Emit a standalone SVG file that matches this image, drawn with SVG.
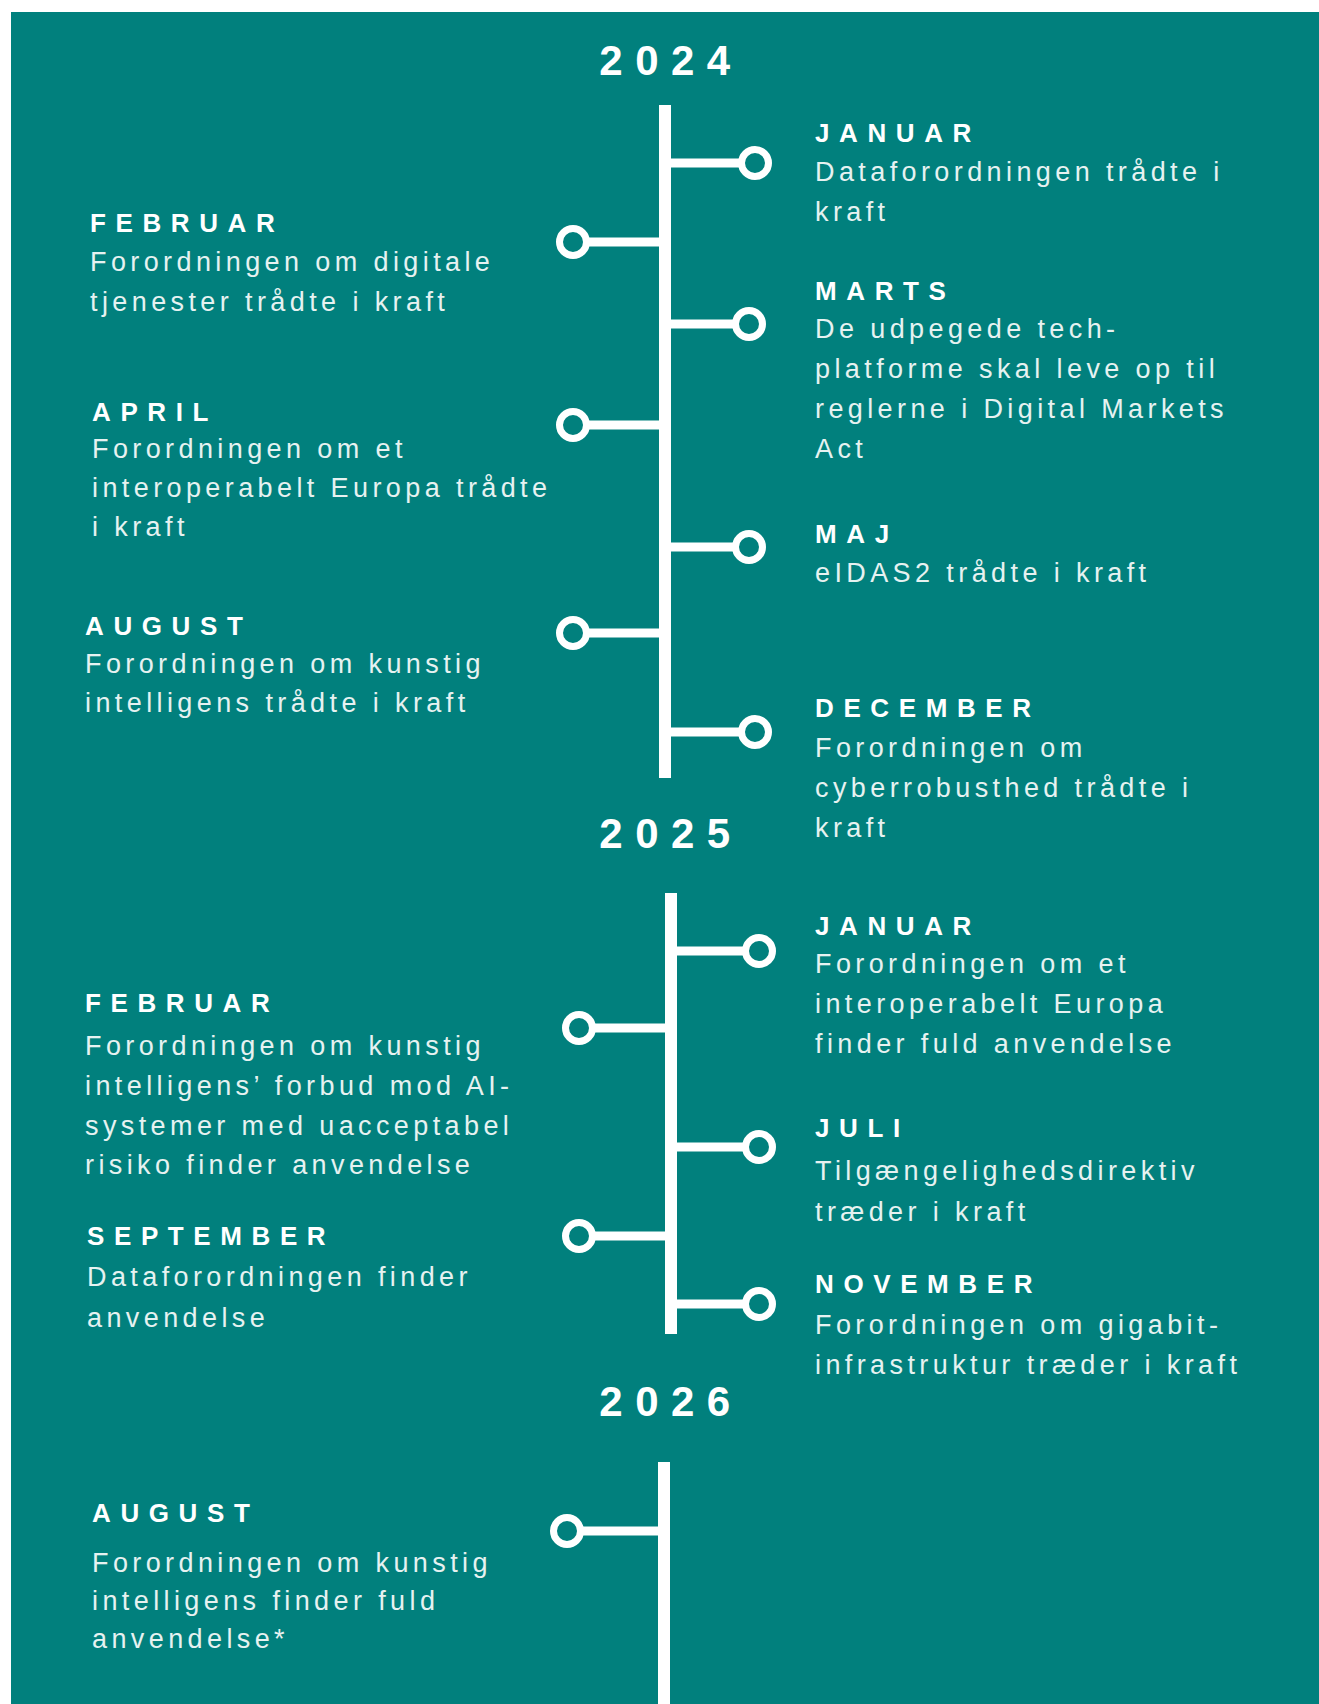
<svg xmlns="http://www.w3.org/2000/svg" width="1319" height="1704" viewBox="0 0 1319 1704">
<style>
.bg{fill:#01807d}
.spine{stroke:#ffffff;stroke-width:12;fill:none}
.branch{stroke:#ffffff;stroke-width:9;fill:none}
.dot{stroke:#ffffff;stroke-width:7;fill:#01807d}
.year{font-family:"Liberation Sans",Arial,sans-serif;font-weight:bold;font-size:42px;letter-spacing:12.5px;fill:#ffffff;text-anchor:middle}
.month{font-family:"Liberation Sans",Arial,sans-serif;font-weight:bold;font-size:26px;letter-spacing:9.6px;fill:#ffffff}
.body{font-family:"Liberation Sans",Arial,sans-serif;font-size:27px;letter-spacing:4.4px;fill:#e6f2f1}
</style>
<rect class="bg" x="11" y="12" width="1308" height="1692"/>

<g id="years">
<text class="year" x="671" y="75">2024</text>
<text class="year" x="671" y="848">2025</text>
<text class="year" x="671" y="1416">2026</text>
</g>

<g id="connectors">
<line class="spine" x1="665" y1="105" x2="665" y2="778"/>
<line class="spine" x1="671" y1="893" x2="671" y2="1334"/>
<line class="spine" x1="664" y1="1462" x2="664" y2="1704"/>
<line class="branch" x1="665" y1="163" x2="741" y2="163"/>
<line class="branch" x1="665" y1="242" x2="587" y2="242"/>
<line class="branch" x1="665" y1="324" x2="736" y2="324"/>
<line class="branch" x1="665" y1="425" x2="587" y2="425"/>
<line class="branch" x1="665" y1="547" x2="736" y2="547"/>
<line class="branch" x1="665" y1="633" x2="587" y2="633"/>
<line class="branch" x1="665" y1="732" x2="741" y2="732"/>
<line class="branch" x1="671" y1="951" x2="746" y2="951"/>
<line class="branch" x1="671" y1="1028" x2="592" y2="1028"/>
<line class="branch" x1="671" y1="1147" x2="746" y2="1147"/>
<line class="branch" x1="671" y1="1236" x2="592" y2="1236"/>
<line class="branch" x1="671" y1="1304" x2="746" y2="1304"/>
<line class="branch" x1="664" y1="1531" x2="580" y2="1531"/>
</g>

<g id="jan2024">
<circle class="dot" cx="755" cy="163" r="13.5"/>
<text class="month" x="815" y="142">JANUAR</text>
<text class="body" x="815" y="181">Dataforordningen trådte i</text>
<text class="body" x="815" y="221">kraft</text>
</g>

<g id="feb2024">
<circle class="dot" cx="573" cy="242" r="13.5"/>
<text class="month" x="90" y="232">FEBRUAR</text>
<text class="body" x="90" y="271">Forordningen om digitale</text>
<text class="body" x="90" y="311">tjenester trådte i kraft</text>
</g>

<g id="mar2024">
<circle class="dot" cx="749" cy="324" r="13.5"/>
<text class="month" x="815" y="300">MARTS</text>
<text class="body" x="815" y="338">De udpegede tech-</text>
<text class="body" x="815" y="378">platforme skal leve op til</text>
<text class="body" x="815" y="418">reglerne i Digital Markets</text>
<text class="body" x="815" y="458">Act</text>
</g>

<g id="apr2024">
<circle class="dot" cx="573" cy="425" r="13.5"/>
<text class="month" x="92" y="421">APRIL</text>
<text class="body" x="92" y="458">Forordningen om et</text>
<text class="body" x="92" y="497">interoperabelt Europa trådte</text>
<text class="body" x="92" y="536">i kraft</text>
</g>

<g id="maj2024">
<circle class="dot" cx="749" cy="547" r="13.5"/>
<text class="month" x="815" y="543">MAJ</text>
<text class="body" x="815" y="582">eIDAS2 trådte i kraft</text>
</g>

<g id="aug2024">
<circle class="dot" cx="573" cy="633" r="13.5"/>
<text class="month" x="85" y="635">AUGUST</text>
<text class="body" x="85" y="673">Forordningen om kunstig</text>
<text class="body" x="85" y="712">intelligens trådte i kraft</text>
</g>

<g id="dec2024">
<circle class="dot" cx="755" cy="732" r="13.5"/>
<text class="month" x="815" y="717">DECEMBER</text>
<text class="body" x="815" y="757">Forordningen om</text>
<text class="body" x="815" y="797">cyberrobusthed trådte i</text>
<text class="body" x="815" y="837">kraft</text>
</g>

<g id="jan2025">
<circle class="dot" cx="759" cy="951" r="13.5"/>
<text class="month" x="815" y="935">JANUAR</text>
<text class="body" x="815" y="973">Forordningen om et</text>
<text class="body" x="815" y="1013">interoperabelt Europa</text>
<text class="body" x="815" y="1053">finder fuld anvendelse</text>
</g>

<g id="feb2025">
<circle class="dot" cx="579" cy="1028" r="13.5"/>
<text class="month" x="85" y="1012">FEBRUAR</text>
<text class="body" x="85" y="1055">Forordningen om kunstig</text>
<text class="body" x="85" y="1095">intelligens’ forbud mod AI-</text>
<text class="body" x="85" y="1135">systemer med uacceptabel</text>
<text class="body" x="85" y="1174">risiko finder anvendelse</text>
</g>

<g id="jul2025">
<circle class="dot" cx="759" cy="1147" r="13.5"/>
<text class="month" x="815" y="1137">JULI</text>
<text class="body" x="815" y="1180">Tilgængelighedsdirektiv</text>
<text class="body" x="815" y="1221">træder i kraft</text>
</g>

<g id="sep2025">
<circle class="dot" cx="579" cy="1236" r="13.5"/>
<text class="month" x="87" y="1245">SEPTEMBER</text>
<text class="body" x="87" y="1286">Dataforordningen finder</text>
<text class="body" x="87" y="1327">anvendelse</text>
</g>

<g id="nov2025">
<circle class="dot" cx="759" cy="1304" r="13.5"/>
<text class="month" x="815" y="1293">NOVEMBER</text>
<text class="body" x="815" y="1334">Forordningen om gigabit-</text>
<text class="body" x="815" y="1374">infrastruktur træder i kraft</text>
</g>

<g id="aug2026">
<circle class="dot" cx="567" cy="1531" r="13.5"/>
<text class="month" x="92" y="1522">AUGUST</text>
<text class="body" x="92" y="1572">Forordningen om kunstig</text>
<text class="body" x="92" y="1610">intelligens finder fuld</text>
<text class="body" x="92" y="1648">anvendelse*</text>
</g>
</svg>
